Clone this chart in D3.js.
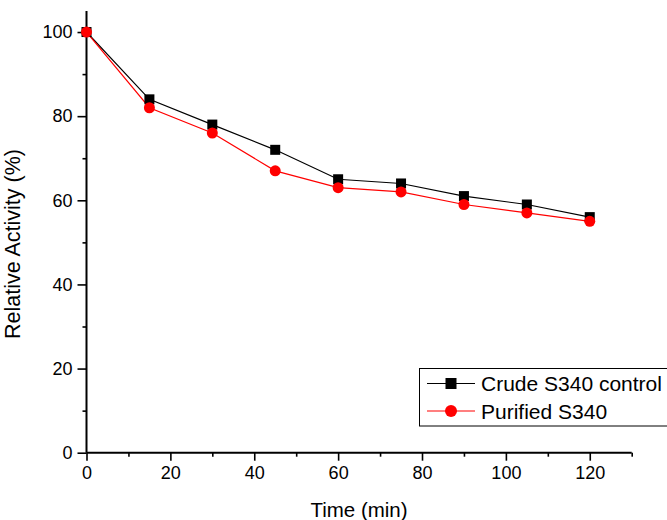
<!DOCTYPE html>
<html><head><meta charset="utf-8">
<script src="https://cdn.jsdelivr.net/npm/d3@7"></script>
<style>body{margin:0;background:#fff}svg{display:block}text{font-family:"Liberation Sans",Arial,sans-serif}</style>
</head><body>
<svg id="c" width="667" height="520"></svg>
<script>
const times = [0, 15, 30, 45, 60, 75, 90, 105, 120];
const crude = [100, 84, 78, 72, 65, 64, 61, 59, 56];
const purified = [100, 82, 76, 67, 63, 62, 59, 57, 55];
const xMajor = [0, 20, 40, 60, 80, 100, 120];
const xMinor = [10, 30, 50, 70, 90, 110, 130];
const yMajor = [0, 20, 40, 60, 80, 100];
const yMinor = [10, 30, 50, 70, 90];
const seriesNames = ["Crude S340 control", "Purified S340"];

const svg = d3.select("#c");
const x = d3.scaleLinear().domain([0, 130]).range([86.5, 631.7]);
const y = d3.scaleLinear().domain([0, 105]).range([452.7, 11]);

// axes
const gx = svg.append("g").attr("transform", `translate(0,${y(0)})`);
gx.call(d3.axisBottom(x).tickValues(xMajor).tickSize(8).tickPadding(6).tickFormat(d3.format("d")));
const gxm = svg.append("g").attr("transform", `translate(0,${y(0)})`);
gxm.call(d3.axisBottom(x).tickValues(xMinor).tickSize(4).tickFormat(""));
const gy = svg.append("g").attr("transform", `translate(${x(0)},0)`);
gy.call(d3.axisLeft(y).tickValues(yMajor).tickSize(9).tickPadding(5).tickFormat(d3.format("d")));
const gym = svg.append("g").attr("transform", `translate(${x(0)},0)`);
gym.call(d3.axisLeft(y).tickValues(yMinor).tickSize(4).tickFormat(""));
[gx, gxm, gy, gym].forEach(g => {
  g.select(".domain").remove();
  g.selectAll(".tick line").attr("stroke", "#000").attr("stroke-width", 1.6);
  g.selectAll(".tick text").attr("font-size", 18).attr("fill", "#000").attr("font-family", "Liberation Sans, Arial, sans-serif");
});
svg.append("line").attr("x1", x(0)).attr("x2", x(130)).attr("y1", y(0)).attr("y2", y(0)).attr("stroke", "#000").attr("stroke-width", 2);
svg.append("line").attr("x1", x(0)).attr("x2", x(0)).attr("y1", y(0)).attr("y2", y(105)).attr("stroke", "#000").attr("stroke-width", 2);

// titles
svg.append("text").attr("x", 359).attr("y", 517).attr("text-anchor", "middle").attr("font-size", 20.5).text("Time (min)");
svg.append("text").attr("transform", `translate(20,244) rotate(-90)`).attr("text-anchor", "middle").attr("font-size", 21.5).text("Relative Activity (%)");

// lines
const line = d3.line().x((d, i) => x(times[i])).y(d => y(d));
svg.append("path").datum(crude).attr("d", line).attr("fill", "none").attr("stroke", "#000").attr("stroke-width", 1.2);
svg.append("path").datum(purified).attr("d", line).attr("fill", "none").attr("stroke", "#ff0000").attr("stroke-width", 1.2);

// markers
svg.selectAll("rect.sq").data(crude).enter().append("rect").attr("class", "sq")
  .attr("x", (d, i) => x(times[i]) - 5).attr("y", d => y(d) - 5).attr("width", 10).attr("height", 10).attr("fill", "#000");
svg.selectAll("circle.ci").data(purified).enter().append("circle").attr("class", "ci")
  .attr("cx", (d, i) => x(times[i])).attr("cy", d => y(d)).attr("r", 5.5).attr("fill", "#ff0000");

// legend
const lg = svg.append("g");
lg.append("rect").attr("x", 419.5).attr("y", 368.5).attr("width", 300).attr("height", 57.5).attr("fill", "#fff").attr("stroke", "#000").attr("stroke-width", 1);
const rows = [{c: "#000", t: seriesNames[0], y: 383.5, m: "sq"}, {c: "#ff0000", t: seriesNames[1], y: 411, m: "ci"}];
rows.forEach(r => {
  lg.append("line").attr("x1", 427).attr("x2", 475).attr("y1", r.y).attr("y2", r.y).attr("stroke", r.c).attr("stroke-width", 1.2);
  if (r.m === "sq") lg.append("rect").attr("x", 451 - 5.5).attr("y", r.y - 5.5).attr("width", 11).attr("height", 11).attr("fill", r.c);
  else lg.append("circle").attr("cx", 451).attr("cy", r.y).attr("r", 6).attr("fill", r.c);
  lg.append("text").attr("x", 481).attr("y", r.y + 7.5).attr("font-size", 21).attr("fill", "#000").text(r.t);
});
</script>
</body></html>
